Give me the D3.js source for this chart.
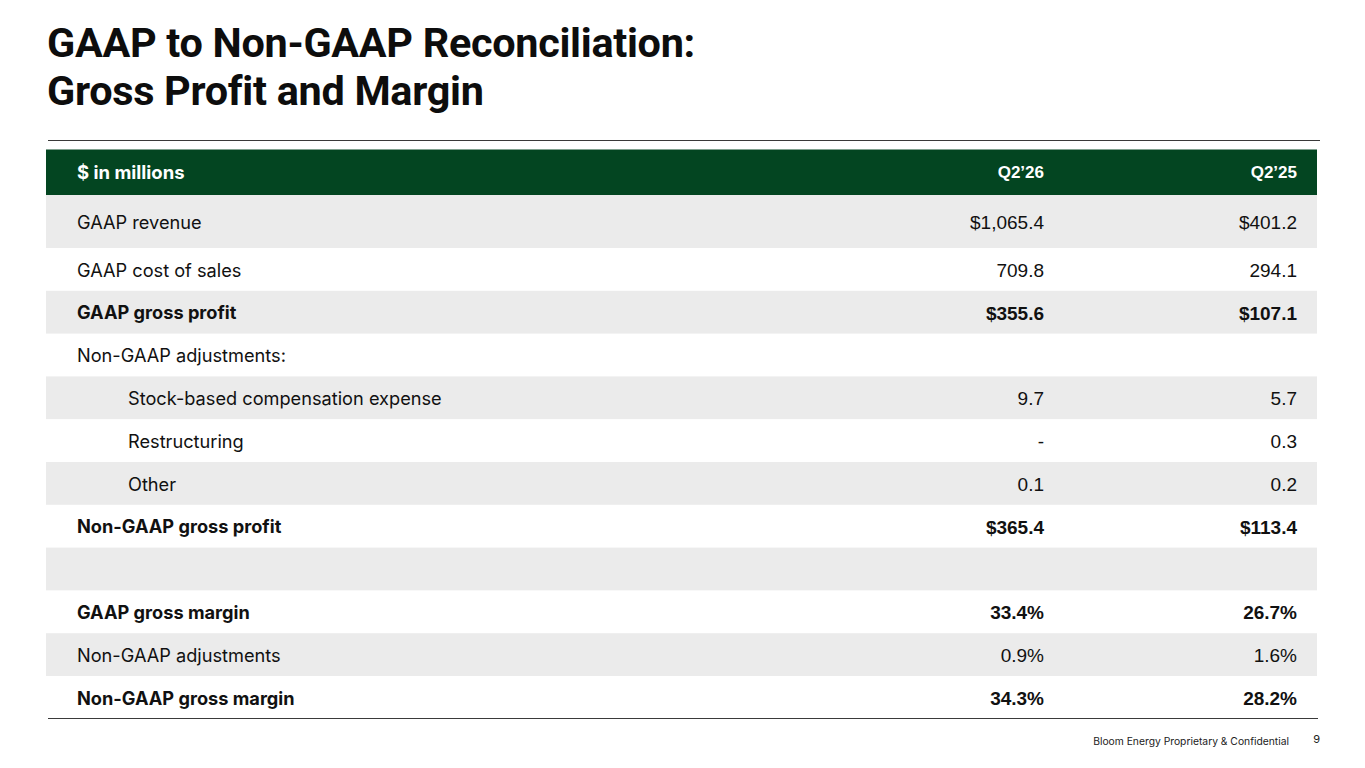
<!DOCTYPE html>
<html>
<head>
<meta charset="utf-8">
<script src="https://cdn.jsdelivr.net/npm/d3@7"></script>
<style>
  body { margin: 0; background: #fff; }
  svg { display: block; }
</style>
</head>
<body>
<script>
var width = 1365, height = 768;

// table content
var titleLines = ["GAAP to Non-GAAP Reconciliation:", "Gross Profit and Margin"];
var columns = ["$ in millions", "Q2\u201926", "Q2\u201925"];
var rowLabels = [
  "GAAP revenue", "GAAP cost of sales", "GAAP gross profit", "Non-GAAP adjustments:",
  "Stock-based compensation expense", "Restructuring", "Other", "Non-GAAP gross profit",
  "", "GAAP gross margin", "Non-GAAP adjustments", "Non-GAAP gross margin"
];
var q226 = ["$1,065.4", "709.8", "$355.6", "", "9.7", "-", "0.1", "$365.4", "", "33.4%", "0.9%", "34.3%"];
var q225 = ["$401.2", "294.1", "$107.1", "", "5.7", "0.3", "0.2", "$113.4", "", "26.7%", "1.6%", "28.2%"];
var boldRows = ["GAAP gross profit", "Non-GAAP gross profit", "GAAP gross margin", "Non-GAAP gross margin"];
var indentRows = ["Stock-based compensation expense", "Restructuring", "Other"];
var footer = "Bloom Energy Proprietary & Confidential";
var pageNo = "9";

var labelFont = "Inter, 'Open Sans', sans-serif";
var numFont = "'Liberation Sans', Arial, sans-serif";

var svg = d3.select("body").append("svg")
  .attr("width", width)
  .attr("height", height);

// Title
svg.append("g").selectAll("text")
  .data(titleLines)
  .enter()
  .append("text")
  .attr("x", 47)
  .attr("y", (d, i) => 57 + i * 48)
  .attr("font-family", "Roboto, sans-serif")
  .attr("font-weight", 700)
  .attr("font-size", 41.4)
  .attr("letter-spacing", -0.3)
  .attr("fill", "#0d0d0d")
  .text(d => d);

// rule above table
svg.append("line")
  .attr("x1", 48).attr("x2", 1320)
  .attr("y1", 140.5).attr("y2", 140.5)
  .attr("stroke", "#3a3a3a").attr("stroke-width", 1.2);

var tableX = 46, tableW = 1271;
var headerTop = 149.5, headerH = 45.5;
var rowTops = [], y = headerTop + headerH;
rowLabels.forEach((d, i) => { rowTops.push(y); y += (i === 0 ? 53 : 42.8); });
var rowH = i => (i === 0 ? 53 : 42.8);

var colRight = d3.scaleOrdinal().domain([1, 2]).range([1044, 1297]);

// header
svg.append("rect")
  .attr("x", tableX).attr("y", headerTop)
  .attr("width", tableW).attr("height", headerH)
  .attr("fill", "#034521");

svg.append("text")
  .attr("x", 77).attr("y", headerTop + headerH / 2)
  .attr("dy", "0.36em")
  .attr("font-family", labelFont)
  .attr("font-weight", 700)
  .attr("font-size", 18.5)
  .attr("fill", "#fff")
  .text(columns[0]);

svg.selectAll(".colhead")
  .data([1, 2])
  .enter()
  .append("text")
  .attr("class", "colhead")
  .attr("x", d => colRight(d))
  .attr("y", headerTop + headerH / 2)
  .attr("dy", "0.36em")
  .attr("text-anchor", "end")
  .attr("font-family", numFont)
  .attr("font-weight", 700)
  .attr("font-size", 17)
  .attr("fill", "#fff")
  .text(d => columns[d]);

// body rows
var rows = svg.append("g").selectAll("g")
  .data(rowLabels)
  .enter()
  .append("g")
  .attr("transform", (d, i) => "translate(0," + rowTops[i] + ")");

rows.append("rect")
  .attr("x", tableX)
  .attr("width", tableW)
  .attr("height", (d, i) => rowH(i) + 0.5)
  .attr("fill", (d, i) => i % 2 === 0 ? "#ebebeb" : "#ffffff");

rows.append("text")
  .attr("x", d => indentRows.includes(d) ? 128 : 77)
  .attr("y", (d, i) => rowH(i) / 2)
  .attr("dy", "0.4em")
  .attr("font-family", labelFont)
  .attr("font-weight", d => boldRows.includes(d) ? 700 : 400)
  .attr("font-size", 18.2)
  .attr("fill", "#111")
  .text(d => d);

[q226, q225].forEach((vals, c) => {
  rows.append("text")
    .attr("x", colRight(c + 1))
    .attr("y", (d, i) => rowH(i) / 2)
    .attr("dy", "0.4em")
    .attr("text-anchor", "end")
    .attr("font-family", numFont)
    .attr("font-weight", d => boldRows.includes(d) ? 700 : 400)
    .attr("font-size", 19)
    .attr("fill", "#111")
    .text((d, i) => vals[i]);
});

// bottom rule
svg.append("line")
  .attr("x1", 48).attr("x2", 1318)
  .attr("y1", 718.5).attr("y2", 718.5)
  .attr("stroke", "#3a3a3a").attr("stroke-width", 1.2);

// footer
svg.append("text")
  .attr("x", 1289).attr("y", 745)
  .attr("text-anchor", "end")
  .attr("font-family", labelFont)
  .attr("font-size", 10.3)
  .attr("fill", "#222")
  .text(footer);

svg.append("text")
  .attr("x", 1320).attr("y", 743)
  .attr("text-anchor", "end")
  .attr("font-family", labelFont)
  .attr("font-size", 11)
  .attr("fill", "#222")
  .text(pageNo);
</script>
</body>
</html>
